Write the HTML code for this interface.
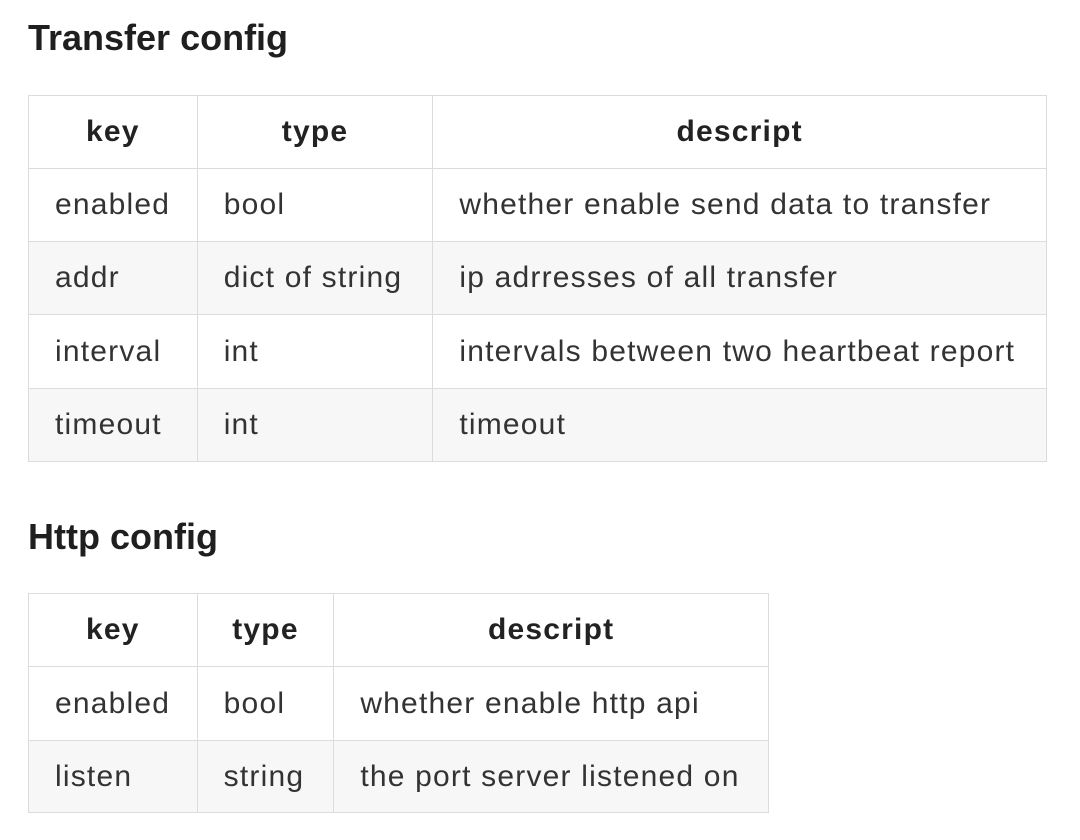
<!DOCTYPE html>
<html><head><meta charset="utf-8"><style>
html,body{margin:0;padding:0;background:#fff;width:1080px;height:840px;overflow:hidden}
body{font-family:"Liberation Sans",Arial,sans-serif;color:#24292e;position:relative}
h2{position:absolute;left:28px;margin:0;font-size:36px;font-weight:bold;letter-spacing:0;color:#1f1f1f}
table{position:absolute;left:28px;border-collapse:collapse;font-size:30px;letter-spacing:1.2px;color:#333}
td,th{border:1.5px solid #dcdcdc;height:70px;padding:0 0 0 26px;text-align:left;box-sizing:border-box;white-space:nowrap}
th{text-align:center;padding:0;font-weight:bold;color:#222}
tr.g td{background:#f7f7f7}
</style></head><body>
<h2 style="top:17px">Transfer config</h2>
<table style="top:95px;width:1019px">
<colgroup><col style="width:169px"><col style="width:236px"><col style="width:614px"></colgroup>
<tr style="height:73px"><th>key</th><th>type</th><th>descript</th></tr>
<tr style="height:73px"><td>enabled</td><td>bool</td><td>whether enable send data to transfer</td></tr>
<tr class="g" style="height:73px"><td>addr</td><td>dict of string</td><td>ip adrresses of all transfer</td></tr>
<tr style="height:74px"><td>interval</td><td>int</td><td>intervals between two heartbeat report</td></tr>
<tr class="g" style="height:73px"><td>timeout</td><td>int</td><td>timeout</td></tr>
</table>
<h2 style="top:516px">Http config</h2>
<table style="top:593px;width:741px">
<colgroup><col style="width:169px"><col style="width:137px"><col style="width:435px"></colgroup>
<tr style="height:73px"><th>key</th><th>type</th><th>descript</th></tr>
<tr style="height:74px"><td>enabled</td><td>bool</td><td>whether enable http api</td></tr>
<tr class="g" style="height:72px"><td>listen</td><td>string</td><td>the port server listened on</td></tr>
</table>
</body></html>
